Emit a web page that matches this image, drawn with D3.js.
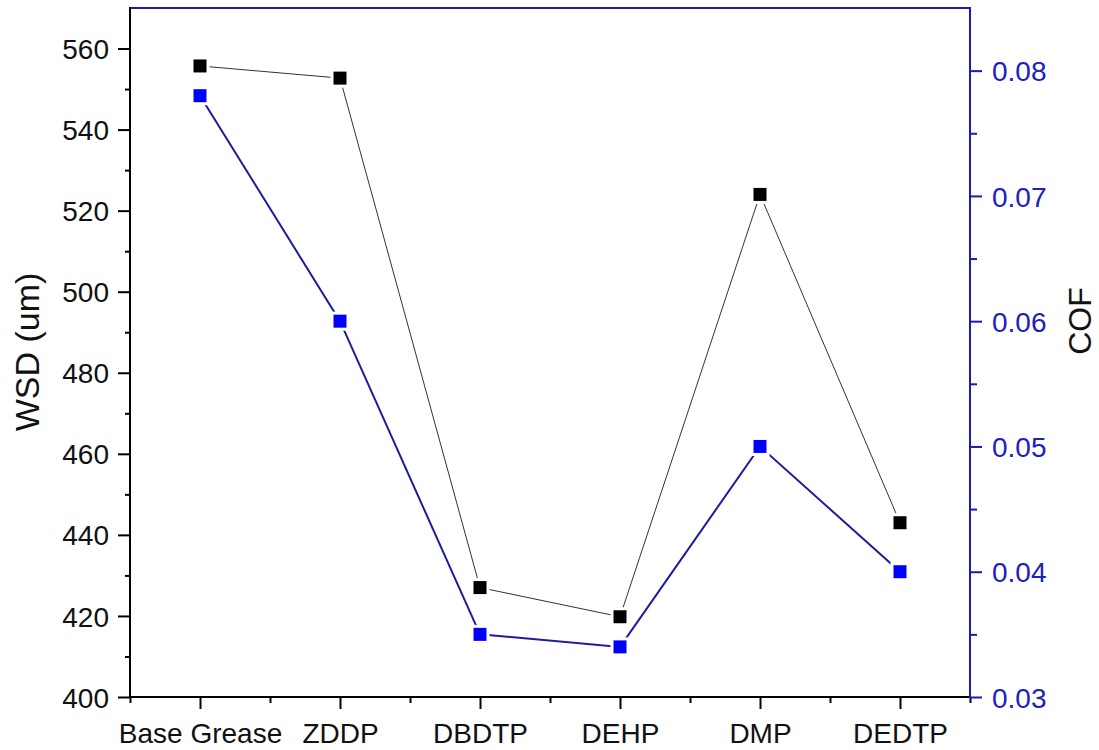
<!DOCTYPE html>
<html>
<head>
<meta charset="utf-8">
<script src="https://cdn.jsdelivr.net/npm/d3@7"></script>
<style>
  html, body { margin: 0; padding: 0; background: #fff; }
  svg { display: block; font-family: "Liberation Sans", Arial, sans-serif; }
</style>
</head>
<body>
<svg id="chart" width="1099" height="750"></svg>
<script>
// Additives tested
const categories = ["Base Grease", "ZDDP", "DBDTP", "DEHP", "DMP", "DEDTP"];
// Wear scar diameter (um)
const wsdValues = [555.7, 552.7, 427.0, 419.8, 524.0, 443.0];
// Coefficient of friction
const cofValues = [0.078, 0.060, 0.035, 0.034, 0.050, 0.040];
// Axis ticks
const wsdTicks = [400, 420, 440, 460, 480, 500, 520, 540, 560];
const cofTicks = [0.03, 0.04, 0.05, 0.06, 0.07, 0.08];

(function () {
const svg = d3.select("#chart");
const pLeft = 130, pRight = 970, pTop = 8, pBottom = 697;
const blue = "#1a1ab8";
const font = "Liberation Sans, Arial, sans-serif";

const x = d3.scaleLinear().domain([-0.5, categories.length - 0.5]).range([pLeft, pRight]);
const yL = d3.scaleLinear().domain([400, 570]).range([pBottom, pTop]);
const yR = d3.scaleLinear().domain([0.03, 0.085]).range([pBottom, pTop]);

// Frame: top and right edges in blue
svg.append("line").attr("x1", pLeft).attr("x2", pRight).attr("y1", pTop).attr("y2", pTop)
  .attr("stroke", blue).attr("stroke-width", 2);

// Bottom axis with major ticks at categories, minor ticks between them
const xMinor = d3.range(-0.5, categories.length, 1);
const gx = svg.append("g").attr("transform", `translate(0,${pBottom})`);
gx.call(d3.axisBottom(x).tickValues(xMinor).tickSize(6).tickFormat(""));
gx.select(".domain").remove();
const gx2 = svg.append("g").attr("transform", `translate(0,${pBottom})`)
  .call(d3.axisBottom(x).tickValues(d3.range(categories.length)).tickSize(12)
    .tickFormat(i => categories[i]).tickPadding(14));
gx2.select(".domain").remove();
svg.append("line").attr("x1", pLeft - 1).attr("x2", pRight).attr("y1", pBottom).attr("y2", pBottom)
  .attr("stroke", "#000").attr("stroke-width", 2);

// Left axis
const wsdMinor = d3.range(410, 570, 20);
const gl = svg.append("g").attr("transform", `translate(${pLeft},0)`);
gl.call(d3.axisLeft(yL).tickValues(wsdMinor).tickSize(5).tickFormat(""));
gl.select(".domain").remove();
const gl2 = svg.append("g").attr("transform", `translate(${pLeft},0)`)
  .call(d3.axisLeft(yL).tickValues(wsdTicks).tickSize(12).tickPadding(9).tickFormat(d3.format("d")));
gl2.select(".domain").remove();
svg.append("line").attr("x1", pLeft).attr("x2", pLeft).attr("y1", pTop - 1).attr("y2", pBottom)
  .attr("stroke", "#000").attr("stroke-width", 2);

// Right axis
const cofMinor = d3.range(0.035, 0.085, 0.01);
const gr = svg.append("g").attr("transform", `translate(${pRight},0)`);
gr.call(d3.axisRight(yR).tickValues(cofMinor).tickSize(7).tickFormat(""));
gr.select(".domain").remove();
const gr2 = svg.append("g").attr("transform", `translate(${pRight},0)`)
  .call(d3.axisRight(yR).tickValues(cofTicks).tickSize(12).tickPadding(10).tickFormat(d3.format(".2f")));
gr2.select(".domain").remove();
svg.append("line").attr("x1", pRight).attr("x2", pRight).attr("y1", pTop - 1).attr("y2", pBottom + 1)
  .attr("stroke", blue).attr("stroke-width", 2);

// Axis styling
[gx, gx2, gl, gl2, gr, gr2].forEach(g => g.attr("font-size", 28).attr("font-family", font));
svg.selectAll(".tick line").attr("stroke-width", 2);
gx.selectAll(".tick line").attr("stroke", "#000");
gx2.selectAll(".tick line").attr("stroke", "#000");
gr.selectAll(".tick line").attr("stroke", blue);
gr2.selectAll(".tick line").attr("stroke", blue);
gx2.selectAll(".tick text").attr("fill", "#111");
gl2.selectAll(".tick text").attr("fill", "#111").attr("dy", "0.36em");
gr2.selectAll(".tick text").attr("fill", "#2020c0").attr("dy", "0.36em");

// Axis titles
svg.append("text").attr("transform", `translate(39,352) rotate(-90)`)
  .attr("text-anchor", "middle").attr("font-size", 34).attr("font-family", font)
  .attr("fill", "#111").text("WSD (um)");
svg.append("text").attr("transform", `translate(1091,321) rotate(-90)`)
  .attr("text-anchor", "middle").attr("font-size", 32).attr("font-family", font)
  .attr("fill", "#111").text("COF");

// Series lines
const wsdLine = d3.line().x((d, i) => x(i)).y(d => yL(d));
const cofLine = d3.line().x((d, i) => x(i)).y(d => yR(d));
svg.append("path").attr("d", wsdLine(wsdValues)).attr("fill", "none")
  .attr("stroke", "#333").attr("stroke-width", 1);
svg.append("path").attr("d", cofLine(cofValues)).attr("fill", "none")
  .attr("stroke", "#1c1c9c").attr("stroke-width", 2);

// Square markers with a small white gap around them
const ms = 13;
function markers(values, scale, color) {
  const g = svg.append("g");
  g.selectAll("rect.gap").data(values).join("rect").attr("class", "gap")
    .attr("x", (d, i) => x(i) - ms / 2 - 3).attr("y", d => scale(d) - ms / 2 - 3)
    .attr("width", ms + 6).attr("height", ms + 6).attr("fill", "#fff");
  g.selectAll("rect.mk").data(values).join("rect").attr("class", "mk")
    .attr("x", (d, i) => x(i) - ms / 2).attr("y", d => scale(d) - ms / 2)
    .attr("width", ms).attr("height", ms).attr("fill", color);
}
markers(wsdValues, yL, "#000");
markers(cofValues, yR, "#0000ff");
})();
</script>
</body>
</html>
